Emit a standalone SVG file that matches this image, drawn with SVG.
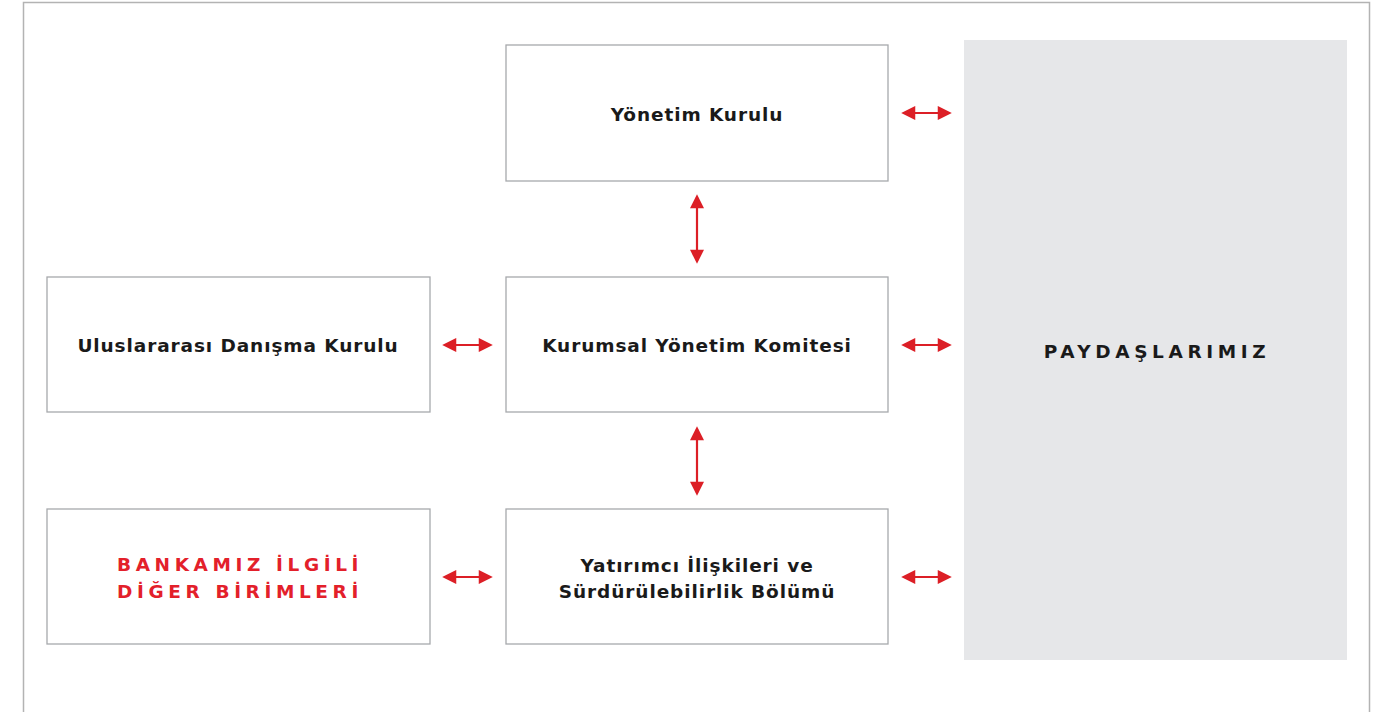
<svg xmlns="http://www.w3.org/2000/svg" width="1383" height="712" viewBox="0 0 1383 712">
<defs>
<style>
.box{fill:#fff;stroke:#a7a9ac;stroke-width:1.3}
.t{font-family:"DejaVu Sans","Liberation Sans",sans-serif;font-weight:700;font-size:18.5px;fill:#1a1a1a;text-anchor:middle;letter-spacing:0.9px}
.caps{letter-spacing:4.6px}
.red{fill:#e3202a}
.ar{stroke:#dc1f26;stroke-width:2.2;fill:none}
.ah{fill:#dc1f26}
</style>
<marker id="h" viewBox="0 0 10 10" refX="8" refY="5" markerWidth="7" markerHeight="6.4" markerUnits="strokeWidth" orient="auto-start-reverse"><path d="M0,0 L10,5 L0,10 Z" class="ah"/></marker>
</defs>
<rect width="1383" height="712" fill="#fff"/>
<path d="M23.5,712 V2.5 H1369.5 V712" fill="none" stroke="#b3b3b3" stroke-width="1.5"/>
<g id="yonetim-kurulu"><rect class="box" x="506" y="45" width="382" height="136"/><text class="t" x="697" y="121">Yönetim Kurulu</text></g>
<g id="kurumsal-yonetim"><rect class="box" x="506" y="277" width="382" height="135"/><text class="t" x="697" y="352">Kurumsal Yönetim Komitesi</text></g>
<g id="yatirimci"><rect class="box" x="506" y="509" width="382" height="135"/><text class="t" x="697" y="572">Yatırımcı İlişkileri ve</text><text class="t" x="697" y="598">Sürdürülebilirlik Bölümü</text></g>
<g id="uluslararasi"><rect class="box" x="47" y="277" width="383" height="135"/><text class="t" x="238" y="352">Uluslararası Danışma Kurulu</text></g>
<g id="bankamiz"><rect class="box" x="47" y="509" width="383" height="135"/><text class="t caps red" x="240" y="571">BANKAMIZ İLGİLİ</text><text class="t caps red" x="240" y="598">DİĞER BİRİMLERİ</text></g>
<g id="paydaslarimiz"><rect x="964" y="40" width="383" height="620" fill="#e6e7e9"/><text class="t caps" x="1157" y="358">PAYDAŞLARIMIZ</text></g>
<g id="connectors">
<line class="ar" x1="904" y1="113" x2="949" y2="113" marker-start="url(#h)" marker-end="url(#h)"/>
<line class="ar" x1="904" y1="345" x2="949" y2="345" marker-start="url(#h)" marker-end="url(#h)"/>
<line class="ar" x1="904" y1="577" x2="949" y2="577" marker-start="url(#h)" marker-end="url(#h)"/>
<line class="ar" x1="445" y1="345" x2="490" y2="345" marker-start="url(#h)" marker-end="url(#h)"/>
<line class="ar" x1="445" y1="577" x2="490" y2="577" marker-start="url(#h)" marker-end="url(#h)"/>
<line class="ar" x1="697" y1="197" x2="697" y2="261" marker-start="url(#h)" marker-end="url(#h)"/>
<line class="ar" x1="697" y1="429" x2="697" y2="493" marker-start="url(#h)" marker-end="url(#h)"/>
</g>
</svg>
